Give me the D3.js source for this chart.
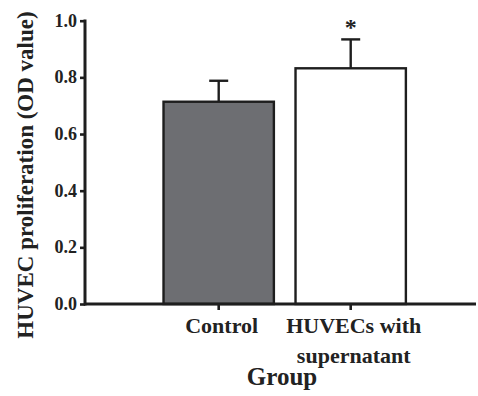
<!DOCTYPE html>
<html>
<head>
<meta charset="utf-8">
<script src="https://cdn.jsdelivr.net/npm/d3@7"></script>
</head>
<body style="margin:0">
<svg id="chart" width="478" height="396"></svg>
<script>
const categories = ["Control", "HUVECs with\nsupernatant"];
const values = [0.714, 0.832];
const errors = [0.074, 0.102];
const significance = ["", "*"];
const fills = ["#6d6e72", "#ffffff"];
const yTicks = [0, 0.2, 0.4, 0.6, 0.8, 1.0];
const yTitle = "HUVEC proliferation (OD value)";
const xTitle = "Group";

const svg = d3.select("#chart");
const ink = "#1e1e1e";
const textFill = "#222";

const y = d3.scaleLinear().domain([0, 1]).range([304, 20.7]);
const x = d3.scaleBand().domain(categories).range([152.7, 416.7]).paddingInner(0.164).paddingOuter(0.082);

function addText(parent, str, size) {
  return parent.append("text")
    .attr("font-family", "Liberation Serif")
    .attr("font-weight", "bold")
    .attr("font-size", size)
    .attr("fill", textFill)
    .text(str);
}

// bars
svg.selectAll("rect.bar").data(categories).enter().append("rect")
  .attr("class", "bar")
  .attr("x", d => x(d))
  .attr("width", x.bandwidth())
  .attr("y", (d, i) => y(values[i]))
  .attr("height", (d, i) => y(0) - y(values[i]))
  .attr("fill", (d, i) => fills[i])
  .attr("stroke", ink)
  .attr("stroke-width", 2.4);

// error bars
const capW = 19;
categories.forEach((c, i) => {
  const cx = x(c) + x.bandwidth() / 2;
  svg.append("line").attr("x1", cx).attr("x2", cx)
    .attr("y1", y(values[i])).attr("y2", y(values[i] + errors[i]))
    .attr("stroke", ink).attr("stroke-width", 2.4);
  svg.append("line").attr("x1", cx - capW / 2).attr("x2", cx + capW / 2)
    .attr("y1", y(values[i] + errors[i])).attr("y2", y(values[i] + errors[i]))
    .attr("stroke", ink).attr("stroke-width", 2.4);
  if (significance[i]) {
    addText(svg, significance[i], 24).attr("x", cx).attr("y", y(values[i] + errors[i]) - 4)
      .attr("text-anchor", "middle");
  }
});

// y axis (ticks via d3 axis, labels as own text)
const yAxis = d3.axisLeft(y).tickValues(yTicks).tickFormat("").tickSize(5);
const gy = svg.append("g").attr("transform", "translate(85,0)").call(yAxis);
gy.select(".domain").remove();
gy.selectAll(".tick line").attr("stroke", ink).attr("stroke-width", 2.6);
yTicks.forEach(t => {
  addText(svg, d3.format(".1f")(t), 18).attr("x", 77).attr("y", y(t)).attr("dy", "0.34em")
    .attr("text-anchor", "end");
});
svg.append("line").attr("x1", 85).attr("x2", 85).attr("y1", y(1) - 1.3).attr("y2", y(0) + 1.5)
  .attr("stroke", ink).attr("stroke-width", 3);

// x axis
svg.append("line").attr("x1", 84).attr("x2", 476).attr("y1", y(0)).attr("y2", y(0))
  .attr("stroke", ink).attr("stroke-width", 3);
const xAxis = d3.axisBottom(x).tickSize(6).tickFormat("");
const gx = svg.append("g").attr("transform", `translate(0,${y(0)})`).call(xAxis);
gx.select(".domain").remove();
gx.selectAll(".tick line").attr("stroke", ink).attr("stroke-width", 2.6);

// x labels
categories.forEach((c, i) => {
  const cx = x(c) + x.bandwidth() / 2 + 3;
  c.split("\n").forEach((ln, j) => {
    addText(svg, ln, 22).attr("x", cx).attr("y", 333 + j * 30).attr("text-anchor", "middle");
  });
});

// axis titles
addText(svg, xTitle, 25).attr("x", 282).attr("y", 385).attr("text-anchor", "middle");
addText(svg, yTitle, 23).attr("transform", "translate(33,175) rotate(-90)").attr("text-anchor", "middle");
</script>
</body>
</html>
